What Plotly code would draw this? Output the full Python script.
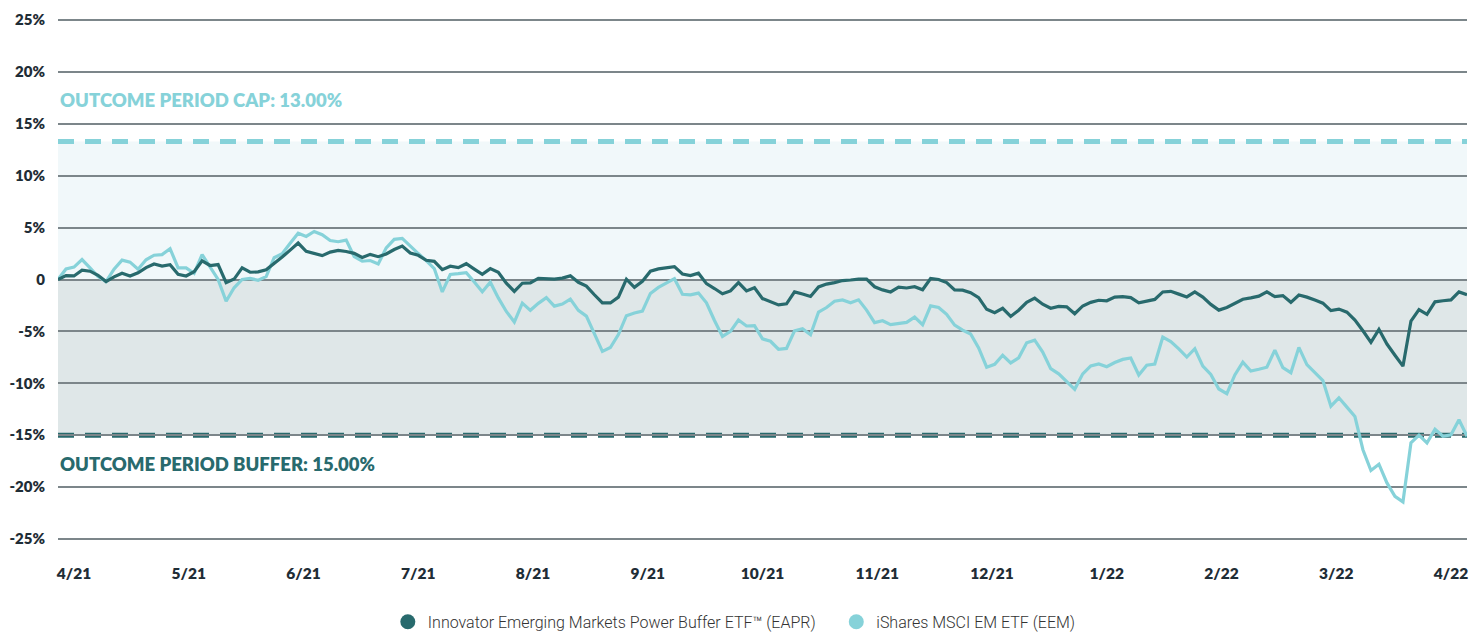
import numpy as np
import plotly.graph_objects as go

# ---- data (cumulative return, %, sampled at equal time steps over the outcome period) ----
EAPR = [0, 0.37, 0.34, 0.9, 0.8, 0.4, -0.2, 0.25, 0.6, 0.33,
        0.65, 1.15, 1.5, 1.3, 1.42, 0.5, 0.34, 0.75, 1.8, 1.35,
        1.44, -0.3, 0.04, 1.12, 0.7, 0.73, 0.93, 1.52, 2.16, 2.83,
        3.51, 2.72, 2.48, 2.3, 2.64, 2.8, 2.7, 2.52, 2.12, 2.42,
        2.2, 2.46, 2.89, 3.22, 2.55, 2.33, 1.85, 1.75, 0.95, 1.28,
        1.14, 1.52, 1.0, 0.5, 1.05, 0.7, -0.35, -1.15, -0.36, -0.33,
        0.11, 0.1, 0.03, 0.13, 0.35, -0.27, -0.64, -1.47, -2.26, -2.26,
        -1.7, 0.03, -0.76, -0.17, 0.8, 1.02, 1.12, 1.24, 0.53, 0.38,
        0.61, -0.4, -0.87, -1.38, -1.1, -0.3, -1.1, -0.8, -1.84, -2.15,
        -2.45, -2.34, -1.2, -1.4, -1.63, -0.72, -0.44, -0.3, -0.1, -0.05,
        0.03, 0.03, -0.7, -1.0, -1.2, -0.73, -0.82, -0.7, -0.99, 0.1,
        0.0, -0.3, -1.0, -1.03, -1.27, -1.75, -2.87, -3.2, -2.78, -3.56,
        -2.96, -2.2, -1.8, -2.38, -2.77, -2.6, -2.63, -3.3, -2.55, -2.2,
        -2.0, -2.05, -1.7, -1.65, -1.75, -2.25, -2.05, -1.92, -1.2, -1.14,
        -1.41, -1.68, -1.2, -1.7, -2.4, -2.95, -2.7, -2.3, -1.9, -1.77,
        -1.6, -1.2, -1.65, -1.55, -2.2, -1.5, -1.7, -1.98, -2.28, -3.0,
        -2.85, -3.15, -3.9, -4.94, -6.05, -4.8, -6.22, -7.3, -8.35, -4.0,
        -2.9, -3.35, -2.15, -2.05, -1.97, -1.2, -1.47]

EEM = [0, 1.02, 1.2, 1.92, 1.12, 0.28, -0.2, 1.0, 1.87, 1.67,
       0.99, 1.9, 2.34, 2.4, 2.97, 1.12, 1.12, 0.6, 2.4, 1.23,
       0, -2.1, -0.8, 0.0, 0.1, -0.07, 0.28, 2.1, 2.48, 3.5,
       4.46, 4.15, 4.63, 4.31, 3.75, 3.64, 3.8, 2.2, 1.76, 1.83,
       1.5, 3.05, 3.87, 3.96, 3.2, 2.5, 1.82, 1.06, -1.2, 0.48,
       0.56, 0.66, -0.24, -1.18, -0.26, -1.77, -3.08, -4.1, -2.28, -2.97,
       -2.3, -1.75, -2.57, -2.37, -1.89, -2.97, -3.53, -5.14, -6.92, -6.55,
       -5.3, -3.49, -3.22, -3.04, -1.34, -0.76, -0.33, 0.08, -1.42, -1.48,
       -1.31, -2.25, -3.95, -5.48, -5.0, -3.9, -4.48, -4.45, -5.72, -5.95,
       -6.72, -6.64, -4.95, -4.75, -5.32, -3.14, -2.7, -2.1, -1.97, -2.25,
       -1.96, -2.95, -4.15, -3.97, -4.35, -4.23, -4.13, -3.62, -4.36, -2.54,
       -2.69, -3.36, -4.4, -4.88, -5.25, -6.6, -8.45, -8.17, -7.3, -8.04,
       -7.55, -6.1, -5.84, -7.0, -8.59, -9.09, -9.8, -10.58, -9.09, -8.33,
       -8.13, -8.41, -8.0, -7.7, -7.56, -9.2, -8.26, -8.14, -5.55, -5.98,
       -6.68, -7.47, -6.67, -8.35, -9.15, -10.55, -11.0, -9.2, -7.97, -8.82,
       -8.65, -8.45, -6.8, -8.5, -8.98, -6.54, -8.2, -9.0, -9.74, -12.2,
       -11.4, -12.3, -13.2, -16.4, -18.4, -17.8, -19.6, -20.9, -21.43, -15.74,
       -15.0, -15.75, -14.42, -15.1, -14.97, -13.52, -15.1]

SERIES_NAMES = ["Innovator Emerging Markets Power Buffer ETF\u2122 (EAPR)",
                "iShares MSCI EM ETF (EEM)"]
X_LABELS = ["4/21", "5/21", "6/21", "7/21", "8/21", "9/21", "10/21",
            "11/21", "12/21", "1/22", "2/22", "3/22", "4/22"]
Y_TICKS = [-25, -20, -15, -10, -5, 0, 5, 10, 15, 20, 25]
Y_LABELS = ["-25%", "-20%", "-15%", "-10%", "-5%", "0", "5%", "10%", "15%", "20%", "25%"]
CAP_LEVEL = 13.3
BUFFER_LEVEL = -15.0
CAP_TEXT = "OUTCOME PERIOD CAP: 13.00%"
BUFFER_TEXT = "OUTCOME PERIOD BUFFER: 15.00%"

DARK = "#286a6d"
LIGHT = "#86d2d9"
TEXT = "#1f2d36"

n = len(EAPR)
x = np.arange(n)
tick_pos = np.linspace(2.0, n - 3.0, len(X_LABELS))

fig = go.Figure()
fig.add_trace(go.Scatter(x=x, y=EEM, mode="lines", line=dict(color=LIGHT, width=3.2),
                         showlegend=False, hoverinfo="skip"))
fig.add_trace(go.Scatter(x=x, y=EAPR, mode="lines", line=dict(color=DARK, width=3.2),
                         showlegend=False, hoverinfo="skip"))
# legend entries (circle markers)
fig.add_trace(go.Scatter(x=[None], y=[None], mode="markers", name=SERIES_NAMES[0] + "    ",
                         marker=dict(color=DARK, size=15, symbol="circle")))
fig.add_trace(go.Scatter(x=[None], y=[None], mode="markers", name=SERIES_NAMES[1],
                         marker=dict(color=LIGHT, size=15, symbol="circle")))

# bands
fig.add_shape(type="rect", xref="paper", x0=0, x1=1, yref="y", y0=0, y1=CAP_LEVEL,
              fillcolor="#f1f8fa", line=dict(width=0), layer="below")
fig.add_shape(type="rect", xref="paper", x0=0, x1=1, yref="y", y0=BUFFER_LEVEL, y1=0,
              fillcolor="#dfe7e8", line=dict(width=0), layer="below")
# dashed cap / buffer lines
fig.add_shape(type="line", xref="paper", x0=0, x1=1, yref="y", y0=CAP_LEVEL, y1=CAP_LEVEL,
              line=dict(color=LIGHT, width=5, dash="16px,11px"), layer="between")
fig.add_shape(type="line", xref="paper", x0=0, x1=1, yref="y", y0=BUFFER_LEVEL, y1=BUFFER_LEVEL,
              line=dict(color=DARK, width=5, dash="16px,11px"), layer="between")

fig.add_annotation(xref="paper", x=0, xanchor="left", yref="y", y=17.25, yanchor="middle",
                   text=CAP_TEXT, showarrow=False,
                   font=dict(family="Lato", size=18.5, color=LIGHT, weight=800))
fig.add_annotation(xref="paper", x=0, xanchor="left", yref="y", y=-17.8, yanchor="middle",
                   text=BUFFER_TEXT, showarrow=False,
                   font=dict(family="Lato", size=18.5, color=DARK, weight=800))

fig.update_xaxes(range=[0, n - 1], tickmode="array", tickvals=tick_pos, ticktext=X_LABELS,
                 showgrid=False, zeroline=False, showline=False, ticks="",
                 ticklabelstandoff=22, automargin=False,
                 tickfont=dict(family="Lato", size=15.5, color=TEXT, weight=800))
fig.update_yaxes(range=[-25.1, 25.1], tickmode="array", tickvals=Y_TICKS, ticktext=Y_LABELS,
                 showgrid=True, gridcolor="#7c868a", gridwidth=1.6, zeroline=False,
                 showline=False, ticks="", ticklabelstandoff=12, automargin=False,
                 tickfont=dict(family="Lato", size=15, color=TEXT, weight=800))

fig.update_layout(
    width=1473, height=627,
    margin=dict(l=50, r=14, t=11, b=95, autoexpand=False),
    paper_bgcolor="white", plot_bgcolor="white",
    showlegend=True,
    legend=dict(orientation="h", x=0.48, xanchor="center", y=-0.157, yanchor="middle",
                font=dict(family="Roboto", size=16, color="#333333", weight=300),
                itemwidth=30, tracegroupgap=0),
)

fig.write_html("out.html")
